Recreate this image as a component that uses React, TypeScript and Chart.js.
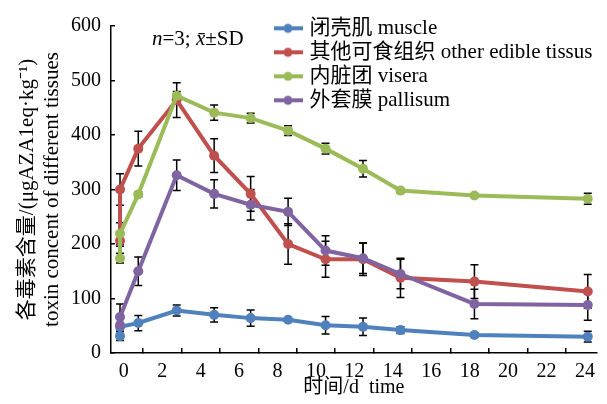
import React, { useEffect, useRef } from 'react';
import { Chart, registerables } from 'chart.js';

Chart.register(...registerables);

// Sampling times, read against the printed x axis (d)
const timeValues = [-0.2, -0.2, 0.75, 2.75, 4.7, 6.6, 8.55, 10.5, 12.45, 14.4, 18.25, 24.15];

const seriesLabels = [
  '闭壳肌 muscle',
  '其他可食组织 other edible tissus',
  '内脏团 visera',
  '外套膜 pallisum',
];
const seriesColors = ['#4F81BD', '#C0504D', '#9BBB59', '#8064A2'];

const muscle = [31, 48, 55, 78, 70, 64, 61, 51, 48, 42, 33, 30];
const muscleSD = [8, 5, 14, 10, 13, 15, 3, 16, 16, 6, 4, 10];

const otherEdible = [206, 300, 375, 464, 362, 292, 200, 172, 172, 138, 131, 113];
const otherEdibleSD = [10, 29, 32, 32, 31, 32, 37, 33, 30, 36, 31, 31];

const visera = [174, 219, 291, 472, 441, 431, 408, 375, 338, 298, 289, 283];
const viseraSD = [9, 20, 5, 8, 14, 9, 9, 10, 15, 4, 3, 10];

const pallisum = [51, 66, 150, 326, 292, 272, 259, 188, 174, 145, 90, 88];
const pallisumSD = [5, 24, 26, 28, 26, 28, 25, 27, 28, 27, 27, 28];

const seriesValues = [muscle, otherEdible, visera, pallisum];
const seriesSD = [muscleSD, otherEdibleSD, viseraSD, pallisumSD];

const xTickValues = [0, 2, 4, 6, 8, 10, 12, 14, 16, 18, 20, 22, 24];
const yTickValues = [0, 100, 200, 300, 400, 500, 600];

const yTitle = ['各毒素含量/(μgAZA1eq·kg⁻¹)', 'toxin concent of different tissues'];
const xTitle = '时间/d  time';

const SERIF = "'Liberation Serif', 'Times New Roman', 'Noto Sans CJK SC', serif";

function makeMarker(color: string): HTMLCanvasElement {
  const c = document.createElement('canvas');
  c.width = 30;
  c.height = 12;
  const g = c.getContext('2d')!;
  g.strokeStyle = color;
  g.lineWidth = 4;
  g.beginPath();
  g.moveTo(0, 6);
  g.lineTo(30, 6);
  g.stroke();
  g.fillStyle = color;
  g.beginPath();
  g.arc(15, 6, 4.5, 0, Math.PI * 2);
  g.fill();
  return c;
}

const errorBarPlugin = {
  id: 'errorBars',
  beforeDatasetsDraw(chart: any) {
    const { ctx, scales } = chart;
    const xs = scales.x;
    const ys = scales.y;
    ctx.save();
    ctx.strokeStyle = '#000';
    ctx.lineWidth = 1.5;
    chart.data.datasets.forEach((ds: any, i: number) => {
      const sd = seriesSD[i];
      ds.data.forEach((p: any, j: number) => {
        const e = sd[j];
        if (!e) return;
        const px = xs.getPixelForValue(p.x);
        const top = ys.getPixelForValue(p.y + e);
        const bot = ys.getPixelForValue(p.y - e);
        ctx.beginPath();
        ctx.moveTo(px, top);
        ctx.lineTo(px, bot);
        ctx.moveTo(px - 4, top);
        ctx.lineTo(px + 4, top);
        ctx.moveTo(px - 4, bot);
        ctx.lineTo(px + 4, bot);
        ctx.stroke();
      });
    });
    ctx.restore();
  },
};

const annotationPlugin = {
  id: 'statNote',
  afterDraw(chart: any) {
    const ctx = chart.ctx;
    ctx.save();
    ctx.fillStyle = '#000';
    ctx.textBaseline = 'alphabetic';
    ctx.textAlign = 'left';
    let x = 152;
    const y = 45;
    const parts: [string, boolean][] = [
      ['n', true],
      ['=3; ', false],
      ['x\u0304', true],
      ['±SD', false],
    ];
    parts.forEach(([t, it]) => {
      ctx.font = `${it ? 'italic ' : ''}21px ${SERIF}`;
      ctx.fillText(t, x, y);
      x += ctx.measureText(t).width;
    });
    ctx.restore();
  },
};

const legendPlacer = {
  id: 'legendPlacer',
  afterLayout(chart: any) {
    const lg = chart.legend;
    if (lg) {
      lg.left = 274;
      lg.top = 14.8;
    }
  },
};

export default function App() {
  const ref = useRef<HTMLCanvasElement | null>(null);

  useEffect(() => {
    if (!ref.current) return;
    const markers = seriesColors.map(makeMarker);
    const datasets = seriesLabels.map((label, i) => ({
      label,
      data: timeValues.map((t, j) => ({ x: t, y: seriesValues[i][j] })),
      borderColor: seriesColors[i],
      backgroundColor: seriesColors[i],
      borderWidth: 4,
      pointRadius: 5,
      pointBorderWidth: 0,
      pointBackgroundColor: seriesColors[i],
      showLine: true,
      tension: 0,
      order: 3 - i,
    }));

    const chart = new Chart(ref.current, {
      type: 'scatter',
      data: { datasets },
      plugins: [errorBarPlugin, annotationPlugin, legendPlacer],
      options: {
        responsive: false,
        devicePixelRatio: 1,
        animation: false,
        layout: { padding: { left: 0, right: 4, top: 21.5, bottom: 0 } },
        plugins: {
          tooltip: { enabled: false },
          legend: {
            display: true,
            position: 'chartArea',
            align: 'start',
            labels: {
              usePointStyle: true,
              pointStyleWidth: 22,
              padding: 3,
              color: '#000',
              font: { family: SERIF, size: 21 },
              generateLabels: () =>
                seriesLabels.map((text, i) => ({
                  text,
                  datasetIndex: i,
                  pointStyle: markers[i],
                  fillStyle: seriesColors[i],
                  strokeStyle: seriesColors[i],
                  lineWidth: 0,
                  hidden: false,
                  fontColor: '#000',
                })),
            },
          },
        },
        scales: {
          x: {
            type: 'linear',
            min: -0.67,
            max: 24.62,
            afterBuildTicks: (s: any) => {
              s.ticks = xTickValues.map((v) => ({ value: v }));
            },
            afterFit: (s: any) => {
              s.height = 51;
            },
            ticks: {
              color: '#000',
              padding: 12,
              maxRotation: 0,
              autoSkip: false,
              font: { family: SERIF, size: 20 },
            },
            grid: {
              display: true,
              drawOnChartArea: false,
              drawTicks: true,
              tickLength: -5,
              offset: true,
              color: '#000',
              lineWidth: 1.5,
            },
            border: { display: true, color: '#000', width: 1.5 },
            title: {
              display: true,
              text: xTitle,
              color: '#000',
              font: { family: SERIF, size: 20, lineHeight: 1.2 },
              padding: { top: 0, bottom: 4 },
            },
          },
          y: {
            type: 'linear',
            min: 0,
            max: 600,
            afterBuildTicks: (s: any) => {
              s.ticks = yTickValues.map((v) => ({ value: v }));
            },
            afterFit: (s: any) => {
              s.width = 111;
            },
            ticks: {
              color: '#000',
              padding: 14,
              font: { family: SERIF, size: 20 },
            },
            grid: {
              display: true,
              drawOnChartArea: false,
              drawTicks: true,
              tickLength: -4,
              color: '#000',
              lineWidth: 1.5,
            },
            border: { display: true, color: '#000', width: 1.5 },
            title: {
              display: true,
              text: yTitle,
              color: '#000',
              font: { family: SERIF, size: 21, lineHeight: 1.2 },
              padding: { top: 15, bottom: 0 },
            },
          },
        },
      } as any,
    });
    return () => chart.destroy();
  }, []);

  return (
    <div style={{ position: 'absolute', left: 0, top: 0, width: 607, height: 404, background: '#fff' }}>
      <canvas ref={ref} width={607} height={404} style={{ display: 'block' }} />
    </div>
  );
}
